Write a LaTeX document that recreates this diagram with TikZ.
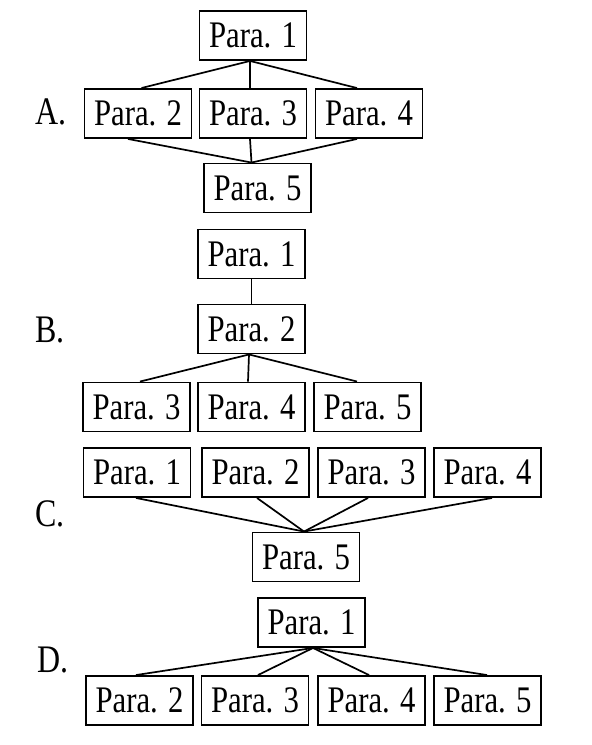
\documentclass[tikz,border=0pt]{standalone}
\usepackage{fontspec}
\setmainfont{Liberation Serif}
\newfontfamily\boxfont[FakeStretch=0.82]{Liberation Serif}
\usetikzlibrary{calc}
\begin{document}
\begin{tikzpicture}[x=1pt,y=-1pt,
  para/.style={draw, line width=1.9pt, minimum width=107pt, minimum height=49pt,
    inner sep=0pt, font=\boxfont\fontsize{37.5}{39}\selectfont},
  lbl/.style={anchor=base west, inner sep=0pt, font=\boxfont\fontsize{39}{40}\selectfont},
  link/.style={line width=1.7pt}]
\useasboundingbox (0,0) rectangle (592,745);
% ---------- A ----------
\node[lbl] (la) at (35,124) {A.};
\node[para] (a1) at (253,35.5) {Para. 1};
\node[para] (a2) at (138,113.5) {Para. 2};
\node[para] (a3) at (253,113.5) {Para. 3};
\node[para] (a4) at (369,113.5) {Para. 4};
\node[para] (a5) at (257.5,188) {Para. 5};
\coordinate (at) at ([xshift=-3pt]a1.south);
\coordinate (ab) at ([xshift=-6pt]a5.north);
\draw[link] (at) -- ([xshift=3.5pt]a2.north);
\draw[link] (at) -- ([xshift=-3pt]a3.north);
\draw[link] (at) -- ([xshift=-12pt]a4.north);
\draw[link] ([xshift=-10pt]a2.south) -- (ab);
\draw[link] ([xshift=-3pt]a3.south) -- (ab);
\draw[link] ([xshift=-12pt]a4.south) -- (ab);
% ---------- B ----------
\node[lbl] (lb) at (35,342) {B.};
\node[para] (b1) at (251.5,254) {Para. 1};
\node[para] (b2) at (251.5,329) {Para. 2};
\node[para] (b3) at (136.5,407) {Para. 3};
\node[para] (b4) at (251.5,407) {Para. 4};
\node[para] (b5) at (367.5,407) {Para. 5};
\coordinate (bt) at ([xshift=-2.5pt]b2.south);
\draw[link] (b1) -- (b2);
\draw[link] (bt) -- ([xshift=3.5pt]b3.north);
\draw[link] (bt) -- ([xshift=-3.5pt]b4.north);
\draw[link] (bt) -- ([xshift=-10.5pt]b5.north);
% ---------- C ----------
\node[lbl] (lc) at (35,526) {C.};
\node[para] (c1) at (137,472.5) {Para. 1};
\node[para] (c2) at (255.5,472.5) {Para. 2};
\node[para] (c3) at (371.5,472.5) {Para. 3};
\node[para] (c4) at (487.5,472.5) {Para. 4};
\node[para] (c5) at (306,557) {Para. 5};
\coordinate (cb) at ([xshift=-2pt]c5.north);
\draw[link] ([xshift=-1pt]c1.south) -- (cb);
\draw[link] ([xshift=1.5pt]c2.south) -- (cb);
\draw[link] ([xshift=-3.5pt]c3.south) -- (cb);
\draw[link] ([xshift=4.5pt]c4.south) -- (cb);
% ---------- D ----------
\node[lbl] (ld) at (37,672) {D.};
\node[para] (d1) at (311.5,622.5) {Para. 1};
\node[para] (d2) at (139.5,700.5) {Para. 2};
\node[para] (d3) at (255,700.5) {Para. 3};
\node[para] (d4) at (371.5,700.5) {Para. 4};
\node[para] (d5) at (487.5,700.5) {Para. 5};
\coordinate (dt) at ([xshift=1.5pt]d1.south);
\draw[link] (dt) -- ([xshift=-3.5pt]d2.north);
\draw[link] (dt) -- ([xshift=3pt]d3.north);
\draw[link] (dt) -- ([xshift=-2.5pt]d4.north);
\draw[link] (dt) -- ([xshift=-0.5pt]d5.north);
\end{tikzpicture}
\end{document}
